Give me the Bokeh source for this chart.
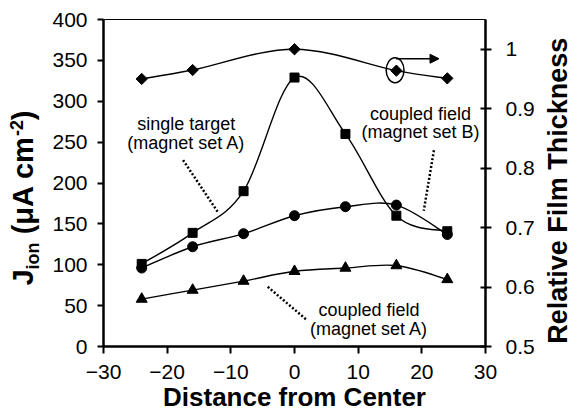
import numpy as np
from bokeh.plotting import figure
from bokeh.layouts import row
from bokeh.models import Range1d, LinearAxis, FixedTicker, Label, Arrow, NormalHead
from bokeh.core.properties import value
from bokeh.embed import file_html
from bokeh.resources import INLINE

# ---- data ----
distance = [-24, -16, -8, 0, 8, 16, 24]
single_target_a = [101, 139, 190, 329, 260, 160, 141]   # squares
coupled_field_b = [96, 122, 138, 160, 171, 173, 137]    # circles
coupled_field_a = [58, 69, 80, 92, 96, 99, 82]          # triangles
thick_distance = [-24, -16, 0, 16, 24]
rel_thickness = [0.95, 0.965, 1.0, 0.964, 0.951]        # diamonds (right axis)

x_ticks = [-30, -20, -10, 0, 10, 20, 30]
left_ticks = [0, 50, 100, 150, 200, 250, 300, 350, 400]
right_ticks = [0.5, 0.6, 0.7, 0.8, 0.9, 1.0]
right_tick_labels = ["0.5", "0.6", "0.7", "0.8", "0.9", "1"]

FONT = "Liberation Sans"
H = 417
B_TOP, B_BOTTOM = 19, 71

# ---------------- main plot ----------------
main = figure(width=497, height=H, output_backend="svg", toolbar_location=None,
              title=None, x_range=Range1d(-30, 30), y_range=Range1d(0, 400),
              min_border_left=63, min_border_right=50,
              min_border_top=B_TOP, min_border_bottom=B_BOTTOM)
main.extra_y_ranges = {"right": Range1d(0.5, 1.05)}
main.xgrid.visible = False
main.ygrid.visible = False
main.outline_line_color = "black"
main.outline_line_width = 1
main.background_fill_color = "white"
main.border_fill_color = "white"


def style_axis(ax, standoff, tick_in=0, tick_out=6):
    ax.axis_line_width = 2.5
    ax.axis_line_color = "black"
    ax.major_tick_line_width = 2
    ax.major_tick_line_color = "black"
    ax.major_tick_in = tick_in
    ax.major_tick_out = tick_out
    ax.minor_tick_line_color = None
    ax.major_label_text_font = FONT
    ax.major_label_text_font_size = "21px"
    ax.major_label_text_color = "black"
    ax.major_label_standoff = standoff


main.xaxis.ticker = FixedTicker(ticks=x_ticks)
style_axis(main.xaxis[0], 11, 0, 7)
main.xaxis.axis_label = "Distance from Center"
main.xaxis.axis_label_text_font = FONT
main.xaxis.axis_label_text_font_size = "26px"
main.xaxis.axis_label_text_font_style = "bold"
main.xaxis.axis_label_text_color = "black"
main.xaxis.axis_label_standoff = 0

main.yaxis.ticker = FixedTicker(ticks=left_ticks)
style_axis(main.yaxis[0], 10, 0, 6)

raxis = LinearAxis(y_range_name="right", ticker=FixedTicker(ticks=right_ticks),
                   major_label_overrides={t: s for t, s in zip(right_ticks, right_tick_labels)})
style_axis(raxis, 14, 5, 6)
main.add_layout(raxis, "right")


def smooth_bezier(xs, ys):
    n = len(xs)
    out = {k: [] for k in ("x0", "y0", "x1", "y1", "cx0", "cy0", "cx1", "cy1")}
    for i in range(n - 1):
        xp, yp = (xs[i - 1], ys[i - 1]) if i > 0 else (xs[i], ys[i])
        xn, yn = (xs[i + 2], ys[i + 2]) if i + 2 < n else (xs[i + 1], ys[i + 1])
        out["x0"].append(xs[i]); out["y0"].append(ys[i])
        out["x1"].append(xs[i + 1]); out["y1"].append(ys[i + 1])
        out["cx0"].append(xs[i] + (xs[i + 1] - xp) / 6)
        out["cy0"].append(ys[i] + (ys[i + 1] - yp) / 6)
        out["cx1"].append(xs[i + 1] - (xn - xs[i]) / 6)
        out["cy1"].append(ys[i + 1] - (yn - ys[i]) / 6)
    return out


for ys, marker, size in [(single_target_a, "square", 9),
                         (coupled_field_b, "circle", 10),
                         (coupled_field_a, "triangle", 11)]:
    main.bezier(**smooth_bezier(distance, ys), line_color="black", line_width=1.4)
    main.scatter(distance, ys, marker=marker, size=size,
                 fill_color="black", line_color="black")

main.bezier(**smooth_bezier(thick_distance, rel_thickness), line_color="black",
            line_width=1.4, y_range_name="right")
main.scatter(thick_distance, rel_thickness, marker="square", size=8, angle=np.pi / 4,
             fill_color="black", line_color="black", y_range_name="right")

# dotted pointer lines
main.line([-17.5, -12.0], [228, 164], line_color="black", line_width=2.5, line_dash="2 2")
main.line([21.9, 20.3], [240, 166], line_color="black", line_width=2.5, line_dash="2 2")
main.line([-4.2, 2.0], [73, 32], line_color="black", line_width=2.5, line_dash="2 2")

# circled point with arrow toward the right axis
main.ellipse(x=[15.8], y=[338], width=2.8, height=30.6, fill_color=None,
             line_color="black", line_width=1.5)
main.add_layout(Arrow(end=NormalHead(size=9, fill_color="black", line_color="black"),
                      x_start=15.95, y_start=352, x_end=22.7, y_end=352,
                      line_color="black", line_width=1.5))


def add_note(x, y, txt):
    main.add_layout(Label(x=x, y=y, text=txt, text_font=FONT, text_font_size="18px",
                          text_align="center", text_baseline="middle",
                          text_color="black"))


add_note(-17.0, 271.9, "single target")
add_note(-17.0, 248.7, "(magnet set A)")
add_note(19.8, 284.2, "coupled field")
add_note(19.8, 262.1, "(magnet set B)")
add_note(11.7, 44.4, "coupled field")
add_note(11.7, 21.2, "(magnet set A)")


# ---------------- side text panels for the vertical axis titles ----------------
def text_panel(w):
    f = figure(width=w, height=H, output_backend="svg", toolbar_location=None,
               title=None, x_range=Range1d(0, w), y_range=Range1d(0, 400),
               x_axis_type=None, y_axis_type=None,
               min_border_left=0, min_border_right=0,
               min_border_top=B_TOP, min_border_bottom=B_BOTTOM)
    f.xgrid.visible = False
    f.ygrid.visible = False
    f.outline_line_color = None
    f.background_fill_color = "white"
    f.border_fill_color = "white"
    return f


def put(f, x, y, txt, size, align="left", angle=0.0):
    f.text(x=[x], y=[y], text=[txt], text_font=value(FONT), text_font_size=size,
           text_font_style="bold", text_align=align, text_baseline="middle",
           text_color="black", angle=angle)


left = text_panel(40)
put(left, 22.8, 74.6, "J", "29px", angle=np.pi / 2)
put(left, 32.3, 94.3, "ion", "18px", angle=np.pi / 2)
put(left, 22.8, 137.2, "(\u03bcA cm", "29px", angle=np.pi / 2)
put(left, 15.7, 257.4, "-2", "18px", angle=np.pi / 2)
put(left, 22.8, 276.9, ")", "29px", angle=np.pi / 2)

right = text_panel(32)
put(right, 20.6, 190.5, "Relative Film Thickness", "27px", align="center", angle=np.pi / 2)

p = row(left, main, right, spacing=0)

open("out.html", "w").write(file_html(p, INLINE))
